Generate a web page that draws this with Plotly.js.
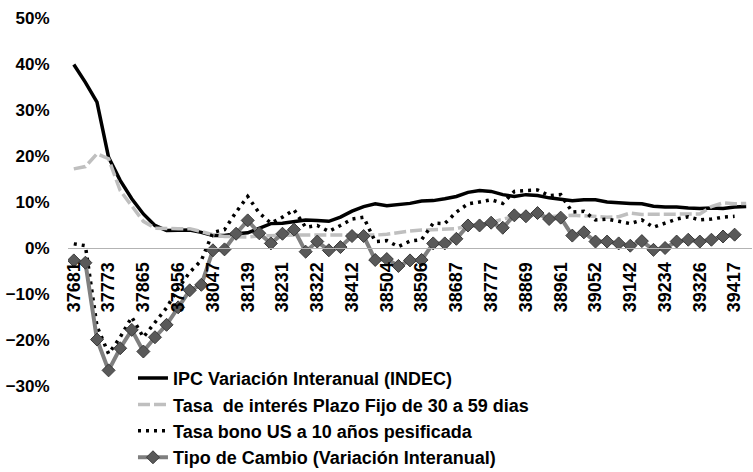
<!DOCTYPE html>
<html>
<head>
<meta charset="utf-8">
<script src="https://cdn.plot.ly/plotly-3.0.1.min.js"></script>
<style>html,body{margin:0;padding:0;background:#fff;}#chart{width:753px;height:472px;}</style>
</head>
<body>
<div id="chart"></div>
<script>
// Month categories (Excel date serials), Mar 2003 .. Jan 2008
const categories = ["37681","37712","37742","37773","37803","37834","37865","37895","37926","37956",
  "37987","38018","38047","38078","38108","38139","38169","38200","38231","38261",
  "38292","38322","38353","38384","38412","38443","38473","38504","38534","38565",
  "38596","38626","38657","38687","38718","38749","38777","38808","38838","38869",
  "38899","38930","38961","38991","39022","39052","39083","39114","39142","39173",
  "39203","39234","39264","39295","39326","39356","39387","39417","39448"];

const tickLabels = ["37681","37773","37865","37956","38047","38139","38231","38322","38412","38504",
  "38596","38687","38777","38869","38961","39052","39142","39234","39326","39417"];

const ipc = [39.9,36.0,31.7,19.7,14.7,10.7,7.4,4.9,3.8,3.9,
  3.9,3.4,2.7,2.7,3.1,3.3,4.2,5.3,5.4,5.8,
  6.1,6.0,5.8,6.7,8.0,9.0,9.6,9.2,9.4,9.7,
  10.2,10.3,10.7,11.2,12.1,12.5,12.3,11.6,11.2,11.6,
  11.4,10.9,10.6,10.3,10.5,10.5,10.0,9.8,9.7,9.6,
  9.1,8.9,8.9,8.7,8.6,8.7,8.6,8.9,9.0];

const plazoFijo = [17.2,17.7,20.5,19.4,12.5,9.0,5.8,4.3,4.2,4.2,
  4.2,3.6,2.9,2.5,2.4,2.4,2.6,2.7,2.8,2.8,
  2.8,2.8,2.8,2.8,2.9,2.9,2.8,3.0,3.4,3.7,
  3.9,4.0,4.1,4.2,4.8,5.0,5.5,6.3,6.8,7.1,
  7.0,6.8,7.0,7.1,7.0,6.9,6.7,6.8,7.6,7.3,
  7.3,7.3,7.3,7.3,7.4,9.0,9.8,9.6,9.7];

const bonoUS = [0.9,0.5,-17.0,-23.0,-19.4,-15.0,-19.4,-16.1,-13.0,-8.8,
  -5.3,-2.7,3.4,4.0,7.8,11.2,7.6,5.4,6.7,8.3,
  4.5,4.9,3.6,4.9,6.3,6.7,1.4,1.6,0.3,1.5,
  1.8,5.4,5.3,7.8,9.6,10.0,10.5,9.7,12.3,12.5,
  12.6,11.4,11.6,7.8,8.0,6.1,6.3,5.8,5.3,6.1,
  4.5,5.4,6.3,6.8,6.1,6.3,6.7,6.9,null];

const tipoCambio = [-2.7,-3.2,-19.9,-26.6,-21.8,-17.8,-22.5,-19.4,-16.7,-12.9,
  -9.2,-8.0,-0.5,-0.3,3.1,6.0,3.2,1.0,3.1,4.0,
  -0.8,1.4,-0.5,0.2,2.6,2.6,-2.6,-2.4,-3.9,-2.7,
  -2.6,1.0,1.0,2.0,4.9,4.9,5.5,4.4,7.1,6.9,
  7.6,6.3,6.6,2.7,3.4,1.4,1.4,1.0,0.5,1.5,
  -0.4,0.0,1.4,1.8,1.4,1.8,2.5,2.9,null];

const names = ["IPC Variación Interanual (INDEC)",
  "Tasa  de interés Plazo Fijo de 30 a 59 dias",
  "Tasa bono US a 10 años pesificada",
  "Tipo de Cambio (Variación Interanual)"];

const font = "Liberation Sans, Arial, sans-serif";

const traces = [
  {x: categories, y: ipc, name: names[0], type: "scatter", mode: "lines",
   line: {color: "#000000", width: 3.5}},
  {x: categories, y: plazoFijo, name: names[1], type: "scatter", mode: "lines",
   line: {color: "#bfbfbf", width: 3.5, dash: "12px,4px"}},
  {x: categories, y: bonoUS, name: names[2], type: "scatter", mode: "lines",
   line: {color: "#000000", width: 3.5, dash: "3px,5px"}},
  {x: categories, y: tipoCambio, name: names[3], type: "scatter", mode: "lines+markers",
   line: {color: "#7f7f7f", width: 4},
   marker: {symbol: "diamond", size: 10, color: "#595959", line: {color: "#3a3a3a", width: 1}}}
];

const layout = {
  width: 753, height: 472,
  margin: {l: 68, r: 1, t: 18, b: 86, autoexpand: false},
  paper_bgcolor: "#ffffff", plot_bgcolor: "#ffffff",
  font: {family: font, color: "#000000"},
  showlegend: true,
  legend: {x: 0.095, y: 0.071, xanchor: "left", yanchor: "top",
    font: {family: font, size: 18, color: "#000000", weight: "bold"},
    bgcolor: "rgba(0,0,0,0)", tracegroupgap: 0},
  xaxis: {type: "category", range: [-0.5, 58.5],
    tickmode: "array", tickvals: tickLabels, ticktext: tickLabels,
    tickangle: -90, anchor: "free", position: 0.375,
    showline: true, linecolor: "#b3b3b3", linewidth: 1,
    showgrid: false, zeroline: false,
    ticks: "outside", ticklen: 6, tickcolor: "rgba(0,0,0,0)",
    tickfont: {family: font, size: 18, color: "#000000", weight: "bold"}},
  yaxis: {range: [-30, 50], dtick: 10, tick0: 0, ticksuffix: "%",
    showgrid: false, zeroline: false, showline: false,
    ticks: "outside", ticklen: 14, tickcolor: "rgba(0,0,0,0)",
    tickfont: {family: font, size: 17, color: "#000000", weight: "bold"}}
};

Plotly.newPlot("chart", traces, layout, {displayModeBar: false, staticPlot: true});
</script>
</body>
</html>
